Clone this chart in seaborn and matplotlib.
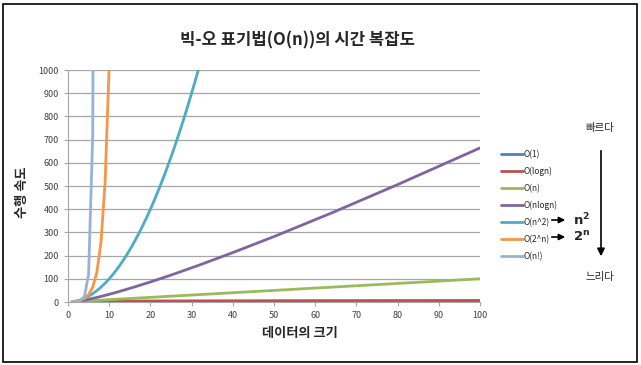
import matplotlib
matplotlib.use('Agg')
import matplotlib.pyplot as plt
import seaborn as sns
import pandas as pd
from matplotlib.patches import Rectangle, FancyArrowPatch

sns.set_style('white')
plt.rcParams['font.family'] = ['Noto Sans CJK KR', 'DejaVu Sans']

# values (x = data size, y = operations)
x_const = [1, 100]
y_const = [1, 1]
x_log = [1, 2, 4, 8, 16, 32, 64, 100]
y_log = [0, 1, 2, 3, 4, 5, 6, 6.6]
x_lin = [1, 100]
y_lin = [1, 100]
x_nlogn = [1, 2, 3, 4, 5, 6, 8, 10, 12, 16, 20, 25, 32, 40, 50, 64, 80, 100]
y_nlogn = [0, 2, 4.8, 8, 11.6, 15.5, 24, 33.2, 43, 64, 86.4, 116, 160, 213, 282, 384, 506, 664]
x_sq = [1, 2, 3, 4, 5, 6, 7, 8, 9, 10, 11, 12, 13, 14, 15, 16,
        17, 18, 19, 20, 21, 22, 23, 24, 25, 26, 27, 28, 29, 30, 31, 32]
y_sq = [1, 4, 9, 16, 25, 36, 49, 64, 81, 100, 121, 144, 169, 196, 225, 256,
        289, 324, 361, 400, 441, 484, 529, 576, 625, 676, 729, 784, 841, 900, 961, 1024]
x_exp = [1, 2, 3, 4, 5, 6, 7, 8, 9, 10]
y_exp = [2, 4, 8, 16, 32, 64, 128, 256, 512, 1024]
x_fact = [1, 2, 3, 4, 5, 6, 7]
y_fact = [1, 2, 6, 24, 120, 720, 5040]

labels = ['O(1)', 'O(logn)', 'O(n)', 'O(nlogn)', 'O(n^2)', 'O(2^n)', 'O(n!)']
colors = ['#4F81BD', '#C0504D', '#9BBB59', '#8064A2', '#4BACC6', '#F79646', '#95B3D7']

series = [(x_const, y_const), (x_log, y_log), (x_lin, y_lin), (x_nlogn, y_nlogn),
          (x_sq, y_sq), (x_exp, y_exp), (x_fact, y_fact)]
frames = []
for lab, (xs, ys) in zip(labels, series):
    frames.append(pd.DataFrame({'n': xs, 'ops': ys, 'complexity': lab}))
df = pd.concat(frames, ignore_index=True)

fig = plt.figure(figsize=(6.41, 3.65), dpi=100)
ax = fig.add_axes([68 / 641, 1 - 302 / 365, (480 - 68) / 641, (302 - 70) / 365])

sns.lineplot(data=df, x='n', y='ops', hue='complexity', hue_order=labels,
             palette=dict(zip(labels, colors)), linewidth=2, sort=False,
             estimator=None, ax=ax)

ax.set_xlim(0, 100)
ax.set_ylim(0, 1000)
ax.set_xticks(range(0, 101, 10))
ax.set_yticks(range(0, 1001, 100))
ax.yaxis.grid(True, color='#A6A6A6', linewidth=0.9)
ax.set_axisbelow(True)
for s in ['top', 'right']:
    ax.spines[s].set_visible(False)
ax.spines['left'].set_color('#A6A6A6')
ax.spines['bottom'].set_color('#A6A6A6')
ax.tick_params(axis='both', labelsize=6.5, labelcolor='#404040', color='#A6A6A6',
               length=3, width=0.8, direction='out', bottom=True, left=True)
ax.set_xlabel('데이터의 크기', fontsize=9.5, fontweight='bold')
ax.set_ylabel('수행 속도', fontsize=9.5, fontweight='bold')
ax.xaxis.set_label_coords((300 - 68) / 412, (302 - 333) / 232)
ax.yaxis.set_label_coords((22 - 68) / 412, (302 - 192) / 232)
ax.xaxis.label.set_va('center')
ax.yaxis.label.set_va('center')

fig.text(298 / 641, 1 - 40 / 365, '빅-오 표기법(O(n))의 시간 복잡도', ha='center', va='center',
         fontsize=12, fontweight='bold')

leg = ax.legend(loc='upper left', bbox_to_anchor=(497 / 641, 1 - 146 / 365),
                bbox_transform=fig.transFigure, frameon=False, fontsize=6,
                handlelength=2.6, handletextpad=0.1, labelspacing=0.93, borderpad=0)
for line in leg.get_lines():
    line.set_linewidth(2)

# arrows next to the n^2 and 2^n legend entries
for y_px, txt in [(220, r'$\mathbf{n^2}$'), (237, r'$\mathbf{2^n}$')]:
    fy = 1 - y_px / 365
    fig.patches.append(FancyArrowPatch(
        (549 / 641, fy), (568 / 641, fy), transform=fig.transFigure,
        arrowstyle='-|>', mutation_scale=9, color='black', linewidth=1.2))
    fig.text(573 / 641, fy, txt, ha='left', va='center', fontsize=9.5)

# speed scale on the right
fig.text(600 / 641, 1 - 128 / 365, '빠르다', ha='center', va='center', fontsize=7.5)
fig.text(600 / 641, 1 - 277 / 365, '느리다', ha='center', va='center', fontsize=7.5)
fig.patches.append(FancyArrowPatch(
    (601 / 641, 1 - 148 / 365), (601 / 641, 1 - 259 / 365), transform=fig.transFigure,
    arrowstyle='-|>', mutation_scale=11, color='black', linewidth=1.2))

fig.patches.append(Rectangle((3 / 641, 3 / 365), 634 / 641, 358 / 365,
                             transform=fig.transFigure, fill=False,
                             edgecolor='black', linewidth=1.2))

fig.savefig('out.png', dpi=100)
